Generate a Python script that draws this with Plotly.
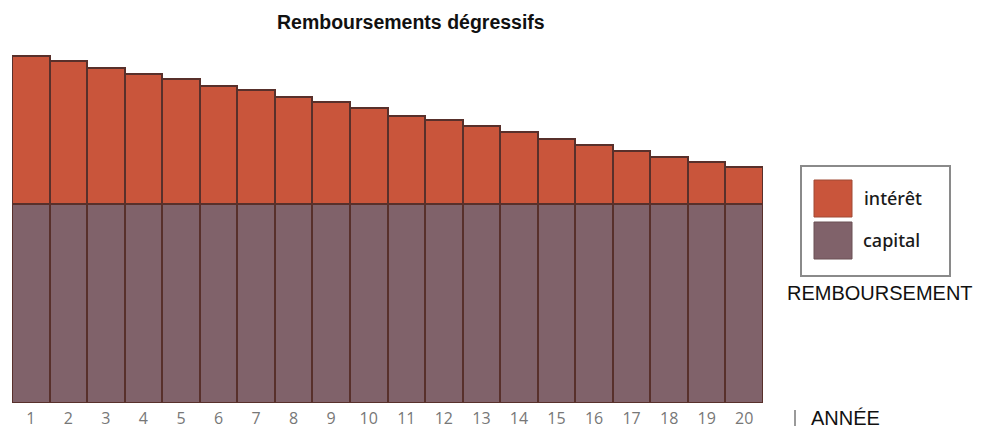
import plotly.graph_objects as go

years = list(range(1, 21))
tick_labels = [str(y) for y in years]
capital = [100] * 20
interet = [74.6, 72.1, 68.5, 65.5, 62.8, 59.2, 57.1, 53.7, 51.2, 48.0,
           44.4, 42.1, 39.0, 36.0, 32.8, 29.9, 26.8, 23.7, 20.9, 18.7]

W, H = 985, 430
ML, MR, MT, MB = 12, 222, 40, 27
PW, PH = W - ML - MR, H - MT - MB
CAP_PX = 199.0  # pixel height of the capital block
ymax = PH / CAP_PX * 100

def px(x):
    return (x - ML) / PW

def py(y):
    return (H - MB - y) / PH

C_INT = "#c9553b"
C_CAP = "#80626a"
C_LINE = "#58302b"

fig = go.Figure()
fig.add_trace(go.Bar(x=years, y=capital, name="capital", marker=dict(color=C_CAP, line=dict(color=C_LINE, width=2))))
fig.add_trace(go.Bar(x=years, y=interet, name="intérêt", marker=dict(color=C_INT, line=dict(color=C_LINE, width=2))))

shapes = [
    dict(type="rect", xref="paper", yref="paper", x0=px(801), x1=px(950), y0=py(276), y1=py(166),
         line=dict(color="#8a8a8a", width=2), fillcolor="white"),
    dict(type="rect", xref="paper", yref="paper", x0=px(814), x1=px(852), y0=py(217), y1=py(180),
         line=dict(color="#a04a35", width=1), fillcolor=C_INT),
    dict(type="rect", xref="paper", yref="paper", x0=px(814), x1=px(852), y0=py(259), y1=py(222),
         line=dict(color="#6a5055", width=1), fillcolor=C_CAP),
    dict(type="line", xref="paper", yref="paper", x0=px(795), x1=px(795), y0=py(426), y1=py(410),
         line=dict(color="#9a9a9a", width=2)),
]

annotations = [
    dict(text="<b>Remboursements dégressifs</b>", xref="paper", yref="paper", x=px(411), y=py(22),
         showarrow=False, xanchor="center", yanchor="middle",
         font=dict(family="Liberation Sans", size=19.5, color="#111")),
    dict(text="intérêt", xref="paper", yref="paper", x=px(862), y=py(198), showarrow=False,
         xanchor="left", yanchor="middle", font=dict(family="Noto Sans", size=18, color="#1a1a1a", weight=500)),
    dict(text="capital", xref="paper", yref="paper", x=px(861), y=py(240), showarrow=False,
         xanchor="left", yanchor="middle", font=dict(family="Noto Sans", size=18, color="#1a1a1a", weight=500)),
    dict(text="REMBOURSEMENT", xref="paper", yref="paper", x=px(785), y=py(293), showarrow=False,
         xanchor="left", yanchor="middle", font=dict(family="Liberation Sans", size=20, color="#111")),
    dict(text="ANNÉE", xref="paper", yref="paper", x=px(809), y=py(418), showarrow=False,
         xanchor="left", yanchor="middle", font=dict(family="Liberation Sans", size=20, color="#111")),
]

fig.update_layout(
    width=W, height=H,
    margin=dict(l=ML, r=MR, t=MT, b=MB, autoexpand=False),
    barmode="stack", bargap=0,
    showlegend=False,
    plot_bgcolor="white", paper_bgcolor="white",
    shapes=shapes, annotations=annotations,
    xaxis=dict(range=[0.5, 20.5], tickvals=years, ticktext=tick_labels, showgrid=False,
               zeroline=False, showline=False, ticks="", fixedrange=True, automargin=False,
               ticklabelstandoff=4,
               tickfont=dict(family="Open Sans", size=16, color="#777777")),
    yaxis=dict(range=[0, ymax], showgrid=False, zeroline=False, showticklabels=False,
               showline=False, fixedrange=True, automargin=False),
)

fig.write_html("out.html", config={"displayModeBar": False})
